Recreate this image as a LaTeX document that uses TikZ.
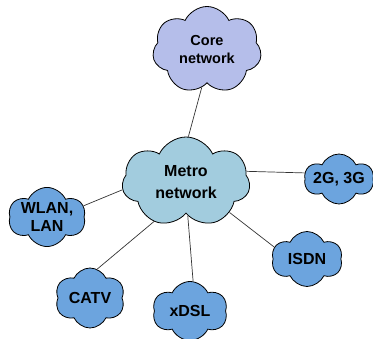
\documentclass[tikz,border=0pt]{standalone}
\usepackage{fontspec}
\setmainfont{Liberation Sans}
\usetikzlibrary{shapes.symbols}
\definecolor{corefill}{RGB}{181,190,234}
\definecolor{metrofill}{RGB}{162,204,222}
\definecolor{accfill}{RGB}{108,164,222}
\tikzset{
  cloudbase/.style={cloud, cloud puffs=7, cloud puff arc=130, cloud ignores aspect,
    draw=black, line width=0.8pt, inner sep=0pt, align=center,
    font=\bfseries\fontsize{16}{19}\selectfont},
  bigcloud/.style={cloudbase, fill=#1},
  smallcloud/.style={cloudbase, fill=accfill, cloud puffs=6},
  link/.style={draw=black!80, line width=0.7pt}
}
\begin{document}
\begin{tikzpicture}[x=1pt,y=1pt]
\useasboundingbox (0,0) rectangle (373,339);
\node[bigcloud=corefill, minimum width=109pt, minimum height=87pt, font=\bfseries\fontsize{14.5}{18}\selectfont] (core) at (207,289) {Core\\network};
\node[bigcloud=metrofill, minimum width=128pt, minimum height=90pt, font=\bfseries\fontsize{16}{22}\selectfont] (metro) at (186,157) {Metro\\network};
\node[smallcloud, minimum width=68pt, minimum height=50pt] (g23) at (339,160) {2G, 3G};
\node[smallcloud, minimum width=75pt, minimum height=59pt, font=\bfseries\fontsize{16}{18}\selectfont] (wlan) at (47,122) {WLAN,\\LAN};
\node[smallcloud, minimum width=70pt, minimum height=60pt] (catv) at (90,41) {CATV};
\node[smallcloud, minimum width=75pt, minimum height=59pt] (xdsl) at (190,28) {xDSL};
\node[smallcloud, minimum width=71pt, minimum height=55pt] (isdn) at (307,80) {ISDN};
\draw[link] (core.262) -- (metro.87);
\draw[link] (metro.10) -- (g23.170);
\draw[link] (metro.187) -- (wlan.17);
\draw[link] (metro.231) -- (catv.76);
\draw[link] (metro.273) -- (xdsl.84);
\draw[link] (metro.325) -- (isdn.160);
\end{tikzpicture}
\end{document}
